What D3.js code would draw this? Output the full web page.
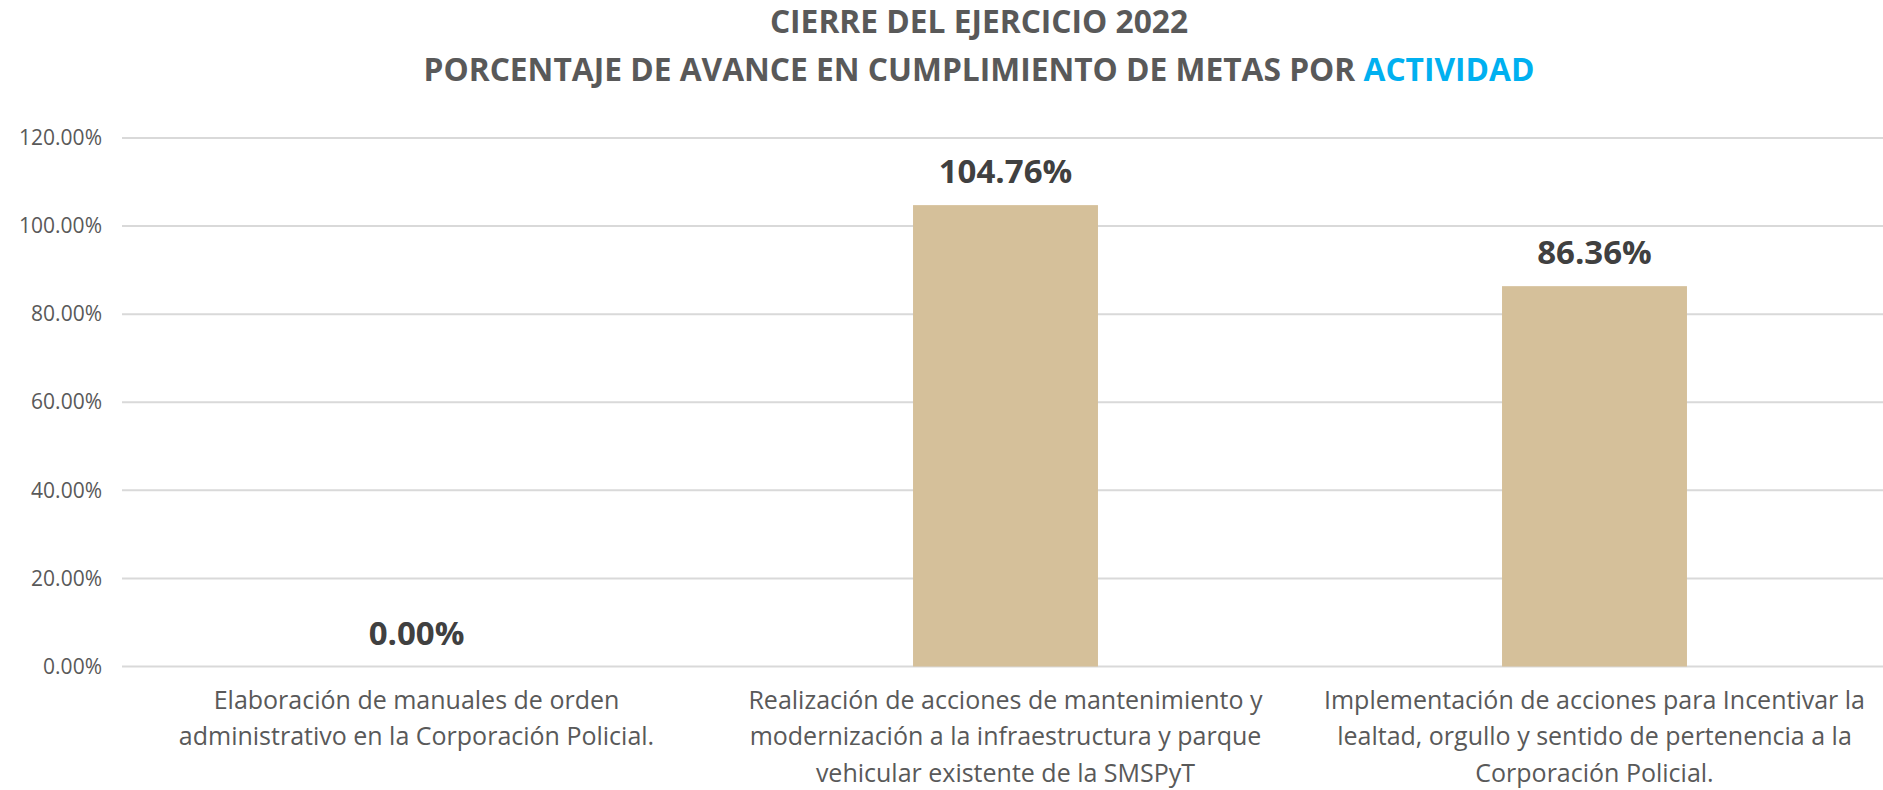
<!DOCTYPE html>
<html>
<head>
<meta charset="utf-8">
<script src="https://cdn.jsdelivr.net/npm/d3@7"></script>
<style>
  body { margin: 0; background: #ffffff; }
  svg { display: block; }
</style>
</head>
<body>
<div id="chart"></div>
<script>
// chart values
var categories = [
  ["Elaboración de manuales de orden", "administrativo en la Corporación Policial."],
  ["Realización de acciones de mantenimiento y", "modernización a la infraestructura y parque", "vehicular existente de la SMSPyT"],
  ["Implementación de acciones para Incentivar la", "lealtad, orgullo y sentido de pertenencia a la", "Corporación Policial."]
];
var values = [0.0, 1.0476, 0.8636];
var yTicks = [0, 0.2, 0.4, 0.6, 0.8, 1.0, 1.2];
var titleLine1 = "CIERRE DEL EJERCICIO 2022";
var titleLine2 = "PORCENTAJE DE AVANCE EN CUMPLIMIENTO DE METAS POR ";
var titleHighlight = "ACTIVIDAD";

var width = 1883, height = 790;
var margin = {top: 138, right: 0, bottom: 123, left: 122};
var textColor = "#595959";

var svg = d3.select("#chart").append("svg")
    .attr("width", width)
    .attr("height", height)
    .style("font-family", "'Open Sans', sans-serif");

svg.append("rect").attr("width", width).attr("height", height).attr("fill", "#ffffff");

// scales
var x = d3.scaleBand()
    .domain(d3.range(values.length))
    .range([margin.left, width + 6])
    .paddingInner(0.686)
    .paddingOuter(0.343);

var y = d3.scaleLinear()
    .domain([0, 1.2])
    .range([height - margin.bottom - 0.5, margin.top]);

// grid lines
svg.append("g")
  .selectAll("line")
  .data(yTicks)
  .enter()
  .append("line")
    .attr("x1", margin.left)
    .attr("x2", width)
    .attr("y1", function(d) { return y(d); })
    .attr("y2", function(d) { return y(d); })
    .attr("stroke", "#d9d9d9")
    .attr("stroke-width", 2);

// y axis labels
var yAxis = svg.append("g")
    .attr("transform", "translate(" + (margin.left - 20) + ",0)")
    .call(d3.axisLeft(y).tickValues(yTicks).tickFormat(d3.format(".2%")).tickSize(0).tickPadding(0));
yAxis.select(".domain").remove();
yAxis.selectAll("text")
    .attr("fill", textColor)
    .style("font-family", "'Open Sans', sans-serif")
    .style("font-size", "21px");

// bars
svg.append("g")
  .selectAll("rect")
  .data(values)
  .enter()
  .append("rect")
    .attr("x", function(d, i) { return x(i); })
    .attr("y", function(d) { return y(d); })
    .attr("width", x.bandwidth())
    .attr("height", function(d) { return y(0) - y(d); })
    .attr("fill", "#d5c09a");

// data labels
svg.append("g")
  .selectAll("text")
  .data(values)
  .enter()
  .append("text")
    .attr("x", function(d, i) { return x(i) + x.bandwidth() / 2; })
    .attr("y", function(d) { return y(d) - 22; })
    .attr("text-anchor", "middle")
    .attr("fill", "#404040")
    .style("font-size", "33px")
    .style("font-weight", "bold")
    .text(function(d) { return d3.format(".2%")(d); });

// category labels
var catLabels = svg.append("g")
  .selectAll("text")
  .data(categories)
  .enter()
  .append("text")
    .attr("text-anchor", "middle")
    .attr("fill", textColor)
    .style("font-size", "25px");

catLabels.selectAll("tspan")
  .data(function(d, i) { return d.map(function(line) { return {line: line, i: i}; }); })
  .enter()
  .append("tspan")
    .attr("x", function(d) { return x(d.i) + x.bandwidth() / 2; })
    .attr("y", function(d, j) { return y(0) + 42 + j * 36.5; })
    .text(function(d) { return d.line; });

// title
var titleX = 979;
var t1 = svg.append("text")
    .attr("x", titleX)
    .attr("y", 33)
    .attr("text-anchor", "middle")
    .attr("fill", textColor)
    .style("font-weight", "bold")
    .style("font-size", "30px")
    .text(titleLine1);

var t2 = svg.append("text")
    .attr("x", titleX)
    .attr("y", 81)
    .attr("text-anchor", "middle")
    .attr("fill", textColor)
    .style("font-weight", "bold")
    .style("font-size", "30px");
t2.append("tspan").text(titleLine2);
t2.append("tspan").attr("fill", "#00b0f0").text(titleHighlight);

// fit title width to the reference line length
var natural = t2.node().getComputedTextLength();
var titleSize = 30 * 1111 / natural;
t1.style("font-size", titleSize + "px");
t2.style("font-size", titleSize + "px");
</script>
</body>
</html>
